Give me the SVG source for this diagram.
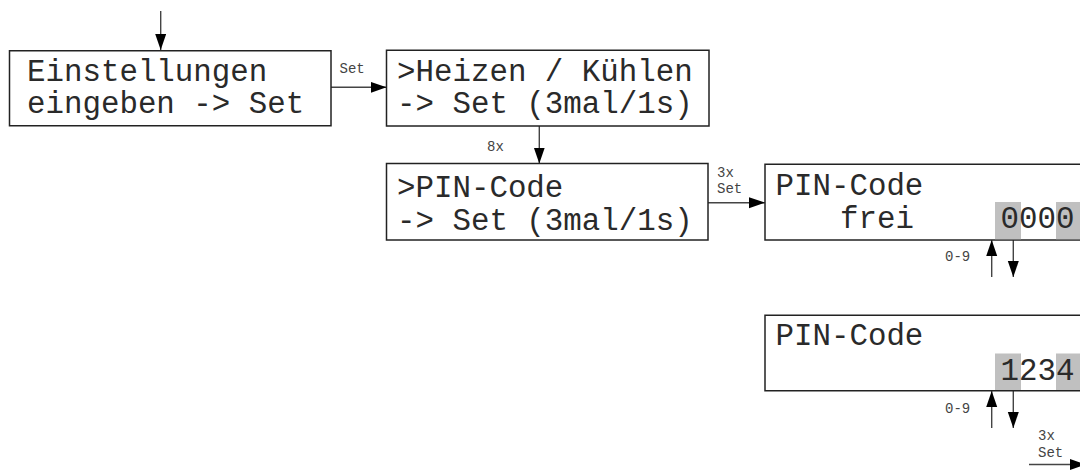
<svg xmlns="http://www.w3.org/2000/svg" width="1080" height="470" viewBox="0 0 1080 470">
<defs>
<marker id="ah" markerUnits="userSpaceOnUse" markerWidth="17" markerHeight="12" refX="16" refY="5.5" orient="auto">
<path d="M0,0 L16,5.5 L0,11 z" fill="#000"/>
</marker>
<style>
.box{fill:#fff;stroke:#222;stroke-width:1.5}
.t{font-family:"Liberation Mono","DejaVu Sans Mono",monospace;font-size:30.8px;fill:#2a2a2a}
.l{font-family:"Liberation Mono","DejaVu Sans Mono",monospace;font-size:14px;fill:#444}
.c{fill:none;stroke:#444;stroke-width:1.4;marker-end:url(#ah)}
.hl{fill:#c0c0c0}
</style>
</defs>
<rect width="1080" height="470" fill="#fff"/>
<g id="connectors">
<line class="c" x1="160.7" y1="11" x2="160.7" y2="50"/>
<line class="c" x1="331" y1="87.3" x2="386.5" y2="87.3"/>
<line class="c" x1="539.3" y1="126" x2="539.3" y2="163.5"/>
<line class="c" x1="708" y1="202.7" x2="765" y2="202.7"/>
<line class="c" x1="991.7" y1="277" x2="991.7" y2="240"/>
<line class="c" x1="1013.3" y1="240" x2="1013.3" y2="277"/>
<line class="c" x1="991.7" y1="428" x2="991.7" y2="391"/>
<line class="c" x1="1013.3" y1="391" x2="1013.3" y2="428"/>
<line class="c" x1="1029" y1="464.5" x2="1086" y2="464.5"/>
<text class="l" x="339.5" y="73">Set</text>
<text class="l" x="487" y="151">8x</text>
<text class="l" x="717" y="177">3x</text>
<text class="l" x="717" y="193">Set</text>
<text class="l" x="945" y="261">0-9</text>
<text class="l" x="945" y="413">0-9</text>
<text class="l" x="1038" y="440">3x</text>
<text class="l" x="1038" y="456.5">Set</text>
</g>
<g id="n1">
<rect class="box" x="9.5" y="50.75" width="321.5" height="75"/>
<text class="t" x="27" y="80.5">Einstellungen</text>
<text class="t" x="27" y="112.5">eingeben -&gt; Set</text>
</g>
<g id="n2">
<rect class="box" x="386.5" y="50.25" width="322.5" height="75.75"/>
<text class="t" x="397" y="81">&gt;Heizen / Kühlen</text>
<text class="t" x="397" y="113">-&gt; Set (3mal/1s)</text>
</g>
<g id="n3">
<rect class="box" x="386.5" y="163.5" width="321.5" height="76.5"/>
<text class="t" x="397" y="197">&gt;PIN-Code</text>
<text class="t" x="397" y="230">-&gt; Set (3mal/1s)</text>
</g>
<g id="n4">
<rect class="box" x="765" y="164.25" width="330" height="75.75"/>
<rect class="hl" x="995" y="202" width="26" height="37.25"/>
<rect class="hl" x="1056" y="202" width="30" height="37.25"/>
<text class="t" x="775.5" y="195">PIN-Code</text>
<text class="t" x="840" y="228">frei</text>
<text class="t" x="1000.5" y="228">0000</text>
</g>
<g id="n5">
<rect class="box" x="765" y="315.25" width="330" height="75.5"/>
<rect class="hl" x="995" y="353.5" width="26" height="36.5"/>
<rect class="hl" x="1056" y="353.5" width="30" height="36.5"/>
<text class="t" x="775.5" y="345">PIN-Code</text>
<text class="t" x="1000.5" y="380">1234</text>
</g>
</svg>
